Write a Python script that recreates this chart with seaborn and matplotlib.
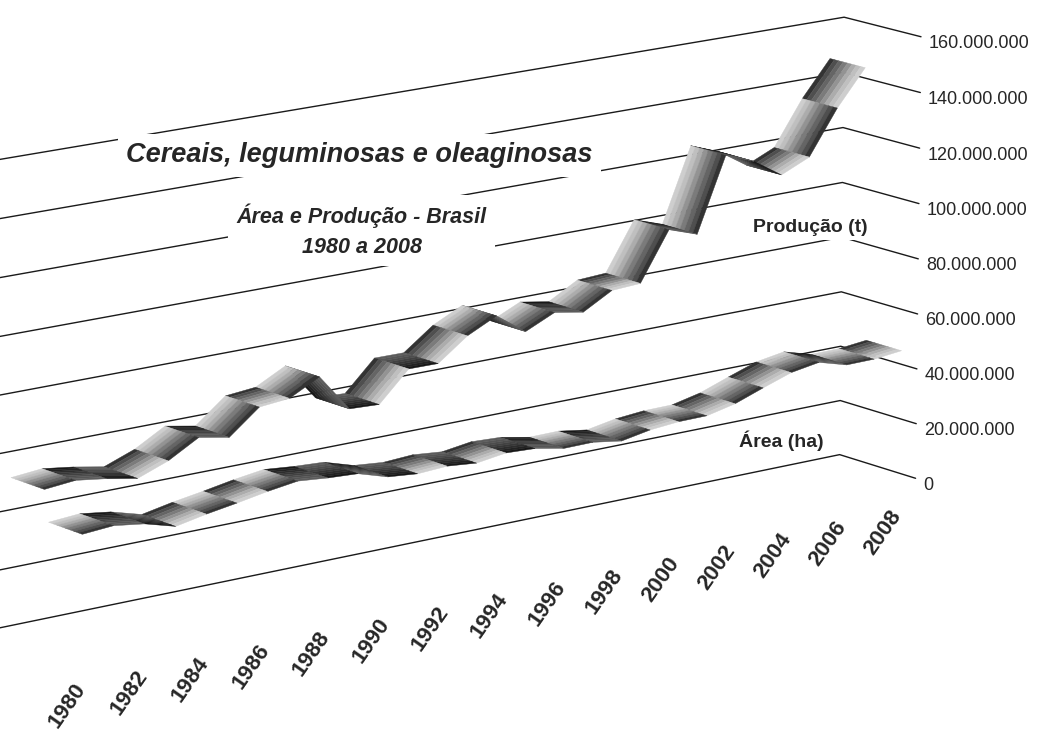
import numpy as np
import matplotlib
matplotlib.use("Agg")
import matplotlib.pyplot as plt
from matplotlib.colors import LightSource
from mpl_toolkits.mplot3d import proj3d
from mpl_toolkits.mplot3d.art3d import Poly3DCollection
import seaborn as sns

# =============================================================================
# Data (Brazil 1980-2008)
# =============================================================================

years = list(range(1980, 2009))
producao_t = [
    51.0e6, 52.0e6, 50.5e6, 48.5e6, 52.5e6, 58.5e6, 56.5e6, 65.0e6, 66.0e6, 71.5e6,
    58.3e6, 57.8e6, 68.3e6, 68.2e6, 76.0e6, 81.1e6, 73.6e6, 78.4e6, 76.6e6, 82.4e6,
    83.0e6, 100.3e6, 96.8e6, 123.2e6, 119.3e6, 112.6e6, 117.2e6, 133.1e6, 145.9e6,
]
area_ha = [
    40.2e6, 41.0e6, 39.5e6, 36.5e6, 38.6e6, 40.3e6, 42.2e6, 43.7e6, 42.7e6, 42.1e6,
    38.9e6, 37.9e6, 38.5e6, 37.5e6, 39.0e6, 38.5e6, 36.5e6, 36.6e6, 35.0e6, 36.9e6,
    37.8e6, 37.9e6, 40.2e6, 43.9e6, 47.4e6, 49.1e6, 46.2e6, 46.3e6, 47.4e6,
]
series_names = ["Área (ha)", "Produção (t)"]
year_ticks = list(range(1980, 2009, 2))
value_ticks = list(range(0, 160_000_001, 20_000_000))

# =============================================================================
# Style
# =============================================================================

sns.set_theme(style="white")
plt.rcParams["font.family"] = ["Liberation Sans", "DejaVu Sans"]
narrow = ["Liberation Sans Narrow", "Liberation Sans", "DejaVu Sans"]

fig = plt.figure(figsize=(10.48, 7.40), dpi=100)
ax = fig.add_axes([-0.142, -0.02, 1.16, 1.13], projection="3d")
ax.computed_zorder = False

light = LightSource(azdeg=300, altdeg=35)
X0, X1 = 1979.5, 2008.5
Y0, Y1 = -0.5, 1.45


def draw_ribbon(ax, xs, depth, zs, zorder, half=0.45, n_strips=8):
    """Excel-like 3D ribbon: quad strips per segment, dark front to light back."""
    edges = np.linspace(depth - half, depth + half, n_strips + 1)
    greys = sns.color_palette("Greys_r", n_strips + 2)[1:-1]
    polys, cols = [], []
    for i in range(len(xs) - 1):
        for k in range(n_strips):
            y0, y1 = edges[k], edges[k + 1]
            polys.append([
                (xs[i], y0, zs[i]), (xs[i + 1], y0, zs[i + 1]),
                (xs[i + 1], y1, zs[i + 1]), (xs[i], y1, zs[i]),
            ])
            cols.append(greys[k] if i % 2 == 0 else greys[n_strips - 1 - k])
    coll = Poly3DCollection(polys, facecolors=cols, edgecolors=cols, linewidths=0.3,
                            shade=True, lightsource=light, zorder=zorder)
    coll.set_clip_on(False)
    ax.add_collection3d(coll)


# Gridlines: back wall + right side wall
for v in value_ticks:
    ax.plot([X0, X1, X1], [Y1, Y1, Y0], [v, v, v], color="0.1", lw=1.0, zorder=1,
            clip_on=False)

draw_ribbon(ax, years, 1.0, producao_t, zorder=2)
draw_ribbon(ax, years, 0.0, area_ha, zorder=3)

ax.set_xlim(X0, X1)
ax.set_ylim(Y0, Y1)
ax.set_zlim(0, 160e6)
ax.grid(False)

ax.set_xticks(year_ticks)
ax.set_xticklabels([str(y) for y in year_ticks], fontsize=16, fontweight="bold",
                   rotation=55, ha="right", va="top")
ax.tick_params(axis="x", pad=9)
ax.set_yticks([])
ax.set_zticks([])

for axis in (ax.xaxis, ax.yaxis, ax.zaxis):
    axis.set_pane_color((1, 1, 1, 0))
    axis.line.set_color((0, 0, 0, 0))
    axis._axinfo["tick"].update(inward_factor=0, outward_factor=0)

ax.set_box_aspect((1.15, 0.13, 0.5), zoom=1.37)
ax.set_proj_type("persp", focal_length=2.0)
ax.view_init(elev=14, azim=-128)

# Value labels at the front end of the side-wall gridlines
fmt = lambda v: f"{int(v):,}".replace(",", ".")
for v in value_ticks:
    px, py, _ = proj3d.proj_transform(X1 + 0.1, Y0 - 0.05, v, ax.get_proj())
    ax.annotate(fmt(v), xy=(px, py), xycoords="data", xytext=(2, -5),
                textcoords="offset points", fontsize=13, ha="left",
                va="center", family=narrow, annotation_clip=False)

# Titles and series labels
box = dict(facecolor="white", edgecolor="none", pad=6)
fig.text(0.343, 0.79, "Cereais, leguminosas e oleaginosas", fontsize=19.5,
         fontweight="bold", style="italic", ha="center", va="center", bbox=box)
fig.text(0.345, 0.688, "Área e Produção - Brasil\n1980 a 2008", fontsize=15.5,
         fontweight="bold", style="italic", ha="center", va="center",
         linespacing=1.55, family=narrow, bbox=box)
fig.text(0.773, 0.693, series_names[1], fontsize=14, fontweight="bold",
         ha="center", va="center", family=narrow, bbox=dict(box, pad=3))
fig.text(0.746, 0.405, series_names[0], fontsize=14, fontweight="bold",
         ha="center", va="center", family=narrow, bbox=dict(box, pad=3))

fig.savefig("out.png", dpi=100)
